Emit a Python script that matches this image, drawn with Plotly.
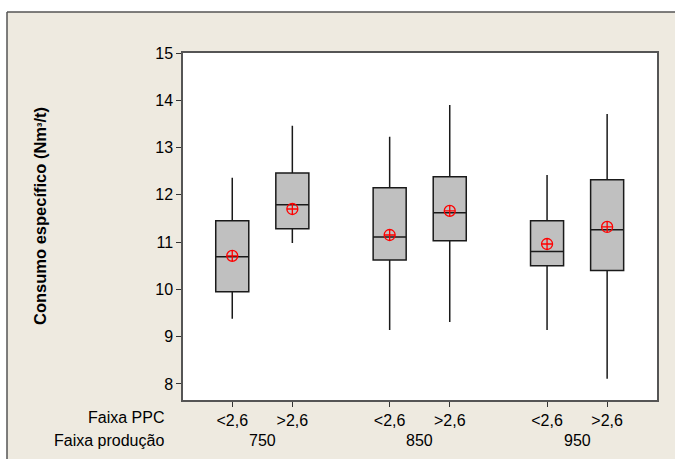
import plotly.graph_objects as go

# ---- data ----
prod_groups = ["750", "850", "950"]
ppc_labels = ["<2,6", ">2,6"]
whisker_low = [9.38, 10.98, 9.14, 9.31, 9.14, 8.11]
q1_vals = [9.95, 11.28, 10.62, 11.03, 10.50, 10.40]
median_vals = [10.69, 11.79, 11.11, 11.62, 10.80, 11.26]
q3_vals = [11.45, 12.46, 12.15, 12.38, 11.45, 12.32]
whisker_high = [12.36, 13.46, 13.23, 13.90, 12.42, 13.71]
mean_vals = [10.71, 11.70, 11.15, 11.66, 10.96, 11.32]

# ---- layout helpers ----
W, H = 675, 459
L, R, T, B = 183, 18, 53, 59
pw, ph = W - L - R, H - T - B
group_step = 2.62
xpos = []
ticktext = []
for g in range(len(prod_groups)):
    for k in range(len(ppc_labels)):
        xpos.append(g * group_step + k)
        ticktext.append(ppc_labels[k])
group_centers = [g * group_step + 0.5 for g in range(len(prod_groups))]

FONT = "Liberation Sans"
BEIGE = "#EEEAE0"

fig = go.Figure()
for i in range(len(xpos)):
    fig.add_trace(go.Box(
        x=[xpos[i]], q1=[q1_vals[i]], median=[median_vals[i]], q3=[q3_vals[i]],
        lowerfence=[whisker_low[i]], upperfence=[whisker_high[i]],
        width=0.55, whiskerwidth=0, fillcolor="#C0C0C0",
        line=dict(color="#1a1a1a", width=1.5), showlegend=False, hoverinfo="skip"))

fig.add_trace(go.Scatter(
    x=xpos, y=mean_vals, mode="markers", showlegend=False,
    marker=dict(symbol="circle-cross-open", size=11, color="red", line=dict(width=1.3, color="red"))))

def px_x(p):
    return (p - L) / pw

def px_y(p):
    return 1 - (p - T) / ph

annotations = []
for g, lab in enumerate(prod_groups):
    annotations.append(dict(x=group_centers[g], xref="x", y=px_y(440), yref="paper",
                            text=lab, showarrow=False, xanchor="center", yanchor="middle",
                            font=dict(family=FONT, size=16, color="black")))
annotations.append(dict(x=px_x(166), y=px_y(417), xref="paper", yref="paper", text="Faixa PPC",
                        showarrow=False, xanchor="right", yanchor="middle",
                        font=dict(family=FONT, size=16, color="black")))
annotations.append(dict(x=px_x(166), y=px_y(440), xref="paper", yref="paper", text="Faixa produção",
                        showarrow=False, xanchor="right", yanchor="middle",
                        font=dict(family=FONT, size=16, color="black")))
annotations.append(dict(x=px_x(40), y=px_y(216), xref="paper", yref="paper",
                        text="<b>Consumo específico (Nm<span style='font-size:13px'>³</span>/t)</b>",
                        textangle=-90,
                        showarrow=False, xanchor="center", yanchor="middle",
                        font=dict(family=FONT, size=16.5, color="black")))

shapes = [
    dict(type="rect", xref="paper", yref="paper", x0=px_x(-5), x1=px_x(W + 5), y0=px_y(12), y1=px_y(-5),
         fillcolor="white", line=dict(width=0), layer="below"),
    dict(type="rect", xref="paper", yref="paper", x0=px_x(-5), x1=px_x(7), y0=px_y(H + 5), y1=px_y(-5),
         fillcolor="white", line=dict(width=0), layer="below"),
    dict(type="line", xref="paper", yref="paper", x0=px_x(7), x1=px_x(W + 5), y0=px_y(12), y1=px_y(12),
         line=dict(color="#555", width=1.5)),
    dict(type="line", xref="paper", yref="paper", x0=px_x(7), x1=px_x(7), y0=px_y(12), y1=px_y(H + 5),
         line=dict(color="#555", width=1.5)),
]

fig.update_layout(
    width=W, height=H, margin=dict(l=L, r=R, t=T, b=B),
    paper_bgcolor=BEIGE, plot_bgcolor="white",
    font=dict(family=FONT, size=16, color="black"),
    annotations=annotations, shapes=shapes, showlegend=False,
    xaxis=dict(range=[-0.82, 2 * group_step + 1 + 0.83], tickvals=xpos, ticktext=ticktext,
               ticks="outside", ticklen=5, tickcolor="#333", showgrid=False, zeroline=False,
               showline=True, linecolor="#555", linewidth=1.5, mirror=True,
               tickfont=dict(family=FONT, size=16, color="black")),
    yaxis=dict(range=[7.66, 15], dtick=1, tick0=8, ticks="outside", ticklen=5, tickcolor="#333",
               showgrid=False, zeroline=False, showline=True, linecolor="#555", linewidth=1.5,
               mirror=True, tickfont=dict(family=FONT, size=16, color="black")),
)

fig.write_html("out.html")
